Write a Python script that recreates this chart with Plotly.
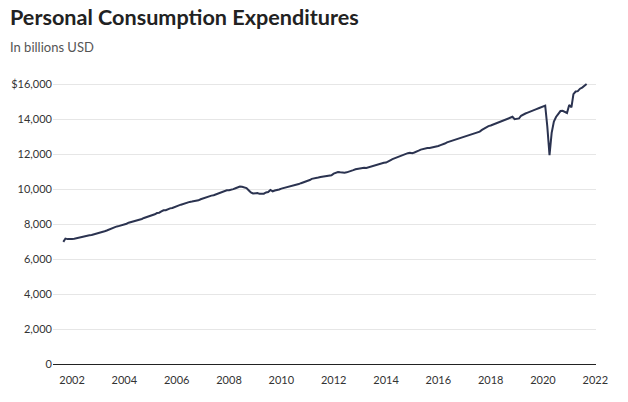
import pandas as pd
import plotly.graph_objects as go

# monthly PCE, billions USD (seasonally adjusted annual rate), Sep 2001 - Sep 2021
start_month = "2001-09-01"
pce = [
    6990, 7180, 7150, 7140,                                                      # 2001 Sep-Dec
    7160, 7170, 7200, 7220, 7250, 7270, 7330, 7370, 7370, 7390, 7420, 7460,      # 2002
    7480, 7510, 7550, 7600, 7640, 7690, 7760, 7830, 7850, 7880, 7910, 7950,      # 2003
    7990, 8030, 8090, 8120, 8160, 8170, 8220, 8250, 8300, 8360, 8400, 8460,      # 2004
    8470, 8520, 8570, 8640, 8660, 8730, 8800, 8800, 8870, 8910, 8930, 8990,      # 2005
    9060, 9080, 9120, 9170, 9200, 9230, 9280, 9300, 9320, 9340, 9370, 9430,      # 2006
    9480, 9520, 9560, 9600, 9640, 9660, 9710, 9760, 9820, 9860, 9920, 9940,      # 2007
    9950, 9960, 10010, 10060, 10120, 10160, 10150, 10120, 10070, 9950, 9820, 9760,  # 2008
    9780, 9790, 9740, 9730, 9750, 9820, 9840, 9960, 9880, 9930, 9940, 9990,      # 2009
    10040, 10070, 10130, 10160, 10180, 10200, 10240, 10270, 10300, 10350, 10390, 10440,  # 2010
    10480, 10530, 10600, 10640, 10650, 10680, 10710, 10730, 10760, 10780, 10790, 10800,  # 2011
    10900, 10970, 10990, 10970, 10950, 10950, 10970, 11030, 11080, 11100, 11150, 11180,  # 2012
    11200, 11240, 11240, 11220, 11260, 11300, 11330, 11350, 11380, 11420, 11470, 11520,  # 2013
    11530, 11580, 11660, 11730, 11780, 11840, 11900, 11950, 11980, 12030, 12070, 12090,  # 2014
    12070, 12110, 12180, 12210, 12270, 12310, 12340, 12360, 12370, 12390, 12420, 12440,  # 2015
    12480, 12530, 12560, 12620, 12690, 12730, 12770, 12810, 12860, 12900, 12940, 12990,  # 2016
    13040, 13060, 13100, 13150, 13170, 13210, 13250, 13300, 13400, 13470, 13560, 13620,  # 2017
    13650, 13700, 13760, 13810, 13880, 13930, 13980, 14020, 14050, 14110, 14150, 14010,  # 2018
    14030, 14060, 14210, 14290, 14340, 14390, 14450, 14510, 14540, 14590, 14640, 14690,  # 2019
    14740, 14790, 13600, 11960, 13230, 13880, 14140, 14300, 14480, 14490, 14420, 14370,  # 2020
    14830, 14690, 15450, 15600, 15620, 15760, 15820, 15900, 16030,               # 2021 Jan-Sep
]
months = pd.date_range(start_month, periods=len(pce), freq="MS")

y_ticks = [0, 2000, 4000, 6000, 8000, 10000, 12000, 14000, 16000]
y_labels = ["0", "2,000", "4,000", "6,000", "8,000", "10,000", "12,000", "14,000", "$16,000"]
x_ticks = [f"{y}-01-01" for y in range(2002, 2023, 2)]
x_labels = [str(y) for y in range(2002, 2023, 2)]

fig = go.Figure()
fig.add_trace(go.Scatter(x=months, y=pce, mode="lines",
                         line=dict(color="#2b3350", width=2), hoverinfo="x+y"))

fig.update_layout(
    width=628, height=402,
    margin=dict(l=53, r=32, t=81, b=38, autoexpand=False),
    paper_bgcolor="white", plot_bgcolor="white",
    showlegend=False,
    font=dict(family="Lato, Roboto, sans-serif", color="#333333", size=11),
    title=dict(text="<b>Personal Consumption Expenditures</b>",
               x=10 / 628, xanchor="left", xref="container",
               y=1 - 10 / 402, yanchor="top", yref="container",
               font=dict(family="Lato, sans-serif", size=21.6, color="#222222")),
)
fig.add_annotation(text="In billions USD", xref="paper", yref="paper",
                   x=-45 / 543, y=1 + 44 / 283.5, xanchor="left", yanchor="top",
                   showarrow=False, font=dict(size=13, color="#555555"))

fig.update_xaxes(range=["2001-04-10", "2022-01-10"], tickvals=x_ticks, ticktext=x_labels,
                 showgrid=False, zeroline=False, showline=False, automargin=False,
                 ticks="outside", ticklen=6, tickcolor="rgba(0,0,0,0)")
fig.update_yaxes(range=[0, 16200], tickvals=y_ticks, ticktext=y_labels,
                 showgrid=True, gridcolor="#e6e6e6", gridwidth=1, automargin=False,
                 zeroline=True, zerolinecolor="#222222", zerolinewidth=1.3,
                 ticks="")

fig.write_html("out.html", config={"displayModeBar": False},
               post_script="document.body.style.margin='0';")
